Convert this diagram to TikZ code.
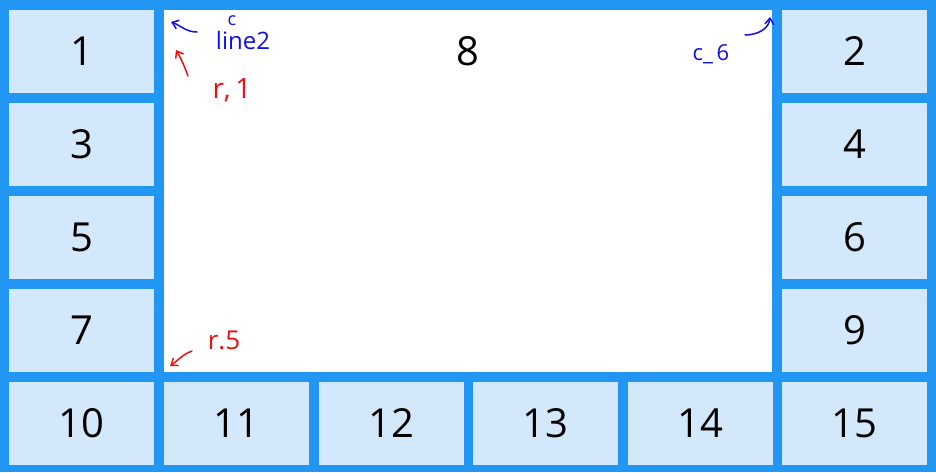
\documentclass[tikz,border=0pt]{standalone}
\usepackage{fontspec}
\setmainfont{Open Sans}
\usetikzlibrary{arrows.meta,positioning}
\definecolor{gridblue}{HTML}{2196F3}
\definecolor{celltint}{HTML}{D3E8FB}
\definecolor{inkblue}{HTML}{1010E8}
\definecolor{inkred}{HTML}{F01010}

\begin{document}
\begin{tikzpicture}[x=1pt, y=-1pt, >={Straight Barb[length=6pt,width=9pt]},
  cell/.style={fill=celltint, minimum width=145pt, minimum height=83pt, inner sep=0pt,
    font=\fontsize{40}{44}\selectfont},
  note/.style={inner sep=0pt, font=\fontsize{22}{24}\selectfont},
  pen/.style={->, line width=1.5pt, line cap=round, line join=round}]
\fill[gridblue] (0,0) rectangle (936,472);

% outer ring of cells
\foreach \n/\x/\y in {1/81.5/51.5, 3/81.5/144.5, 5/81.5/237.5, 7/81.5/330.5,
    2/854.5/51.5, 4/854.5/144.5, 6/854.5/237.5, 9/854.5/330.5,
    10/81.5/423.5, 11/236.5/423.5, 12/391/423.5, 13/545.5/423.5,
    14/700/423.5, 15/854.5/423.5}
  \node[cell] (c\n) at (\x,\y) {\n};

% big cell
\node[cell, fill=white, minimum width=608pt, minimum height=362pt,
  label={[anchor=center, yshift=-41.5pt, font=\fontsize{40}{44}\selectfont]north:8}]
  (c8) at (468,191) {};

% hand notes
\node[note, text=inkblue, font=\fontsize{18}{20}\selectfont] (colc) at (232,21) {c};
\node[note, text=inkblue, font=\fontsize{24}{26}\selectfont] (line2) at (243,40) {line2};
\node[note, text=inkred, font=\fontsize{28}{30}\selectfont] (r1) at (232,90) {r,\,1};
\node[note, text=inkblue] (c6) at (711,54) {c\_\,6};
\node[note, text=inkred, font=\fontsize{26}{28}\selectfont] (r5) at (224,340) {r.5};

\coordinate (bt1) at (197,32);
\coordinate (bh1) at (171,22);
\coordinate (rt1) at (188,76);
\coordinate (rh1) at (176,50);
\coordinate (bt2) at (745,35);
\coordinate (bh2) at (770,17);
\coordinate (rt2) at (192,351);
\coordinate (rh2) at (170,366);

\draw[pen, inkblue] (bt1) to[out=180, in=-20] (bh1);
\draw[pen, inkred] (rt1) to[out=110, in=-60] (rh1);
\draw[pen, inkblue] (bt2) to[out=0, in=-95] (bh2);
\draw[pen, inkred] (rt2) to[out=200, in=35] (rh2);
\end{tikzpicture}
\end{document}
